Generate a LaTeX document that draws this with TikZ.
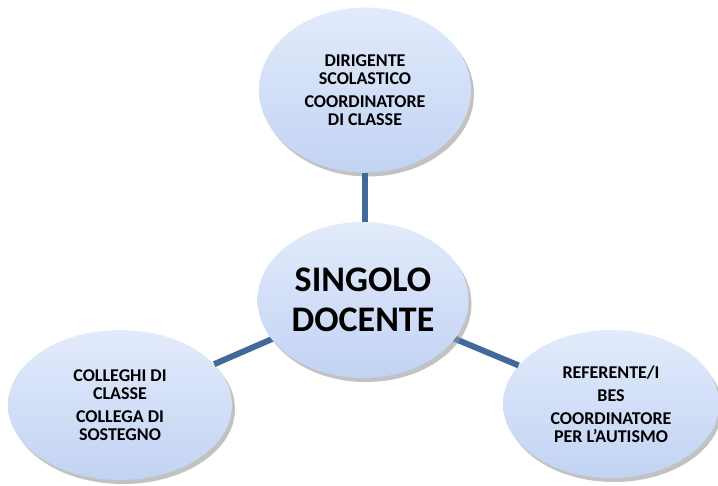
\documentclass[tikz,border=0pt]{standalone}
\usepackage{fontspec}
\setmainfont{Carlito}
\usetikzlibrary{shapes.geometric,shadows}
\definecolor{linkblue}{HTML}{41699A}
\definecolor{ovaltop}{HTML}{E2EBFB}
\definecolor{ovalbot}{HTML}{C2D3F3}
\begin{document}
\begin{tikzpicture}[x=1pt,y=-1pt]
\useasboundingbox (0,0) rectangle (718,485);
\tikzstyle{oval}= [ellipse,top color=ovaltop,bottom color=ovalbot,draw=none,
  drop shadow={shadow xshift=3pt,shadow yshift=-4pt,fill=black!40,opacity=0.6},
  align=center,font=\bfseries\fontsize{18}{18}\selectfont,inner sep=0pt];
\tikzstyle{link}= [draw=linkblue,line width=6pt];

  % outer ovals
  \node(dc)[oval,minimum width=212pt,minimum height=165pt] at (365,90)
    {DIRIGENTE\\SCOLASTICO\\[5pt]COORDINATORE\\DI CLASSE};
  \node(cc)[oval,minimum width=224pt,minimum height=150pt] at (120,405)
    {COLLEGHI DI\\CLASSE\\[5pt]COLLEGA DI\\SOSTEGNO};
  \node(rb)[oval,minimum width=216pt,minimum height=148pt] at (611,404)
    {REFERENTE/I\\[5pt]BES\\[5pt]COORDINATORE\\PER L’AUTISMO};

  % links, behind the central oval
  \path[link] (dc) -- (365,300);
  \path[link] (cc) -- (362,300);
  \path[link] (rb) -- (362,300);

  % central oval
  \node(sd)[oval,minimum width=211pt,minimum height=156pt,
    font=\bfseries\fontsize{36}{40}\selectfont] at (363,300)
    {SINGOLO\\DOCENTE};

\end{tikzpicture}
\end{document}
